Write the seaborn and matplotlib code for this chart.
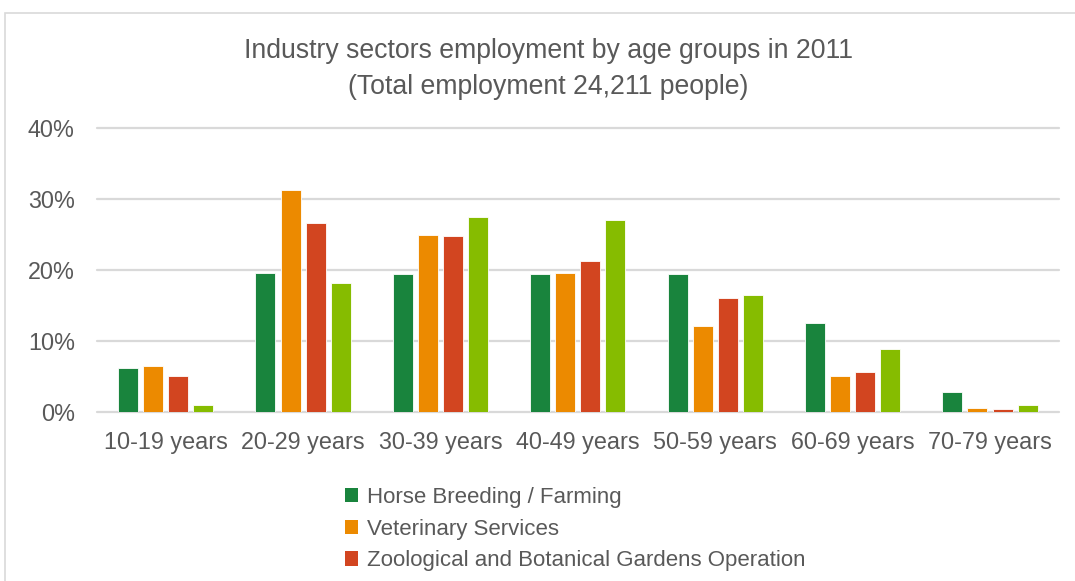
import matplotlib
matplotlib.use("Agg")
import matplotlib.pyplot as plt
from matplotlib.patches import Patch, Rectangle
import pandas as pd
import seaborn as sns

# Employment share (%) by age group for each industry sector, 2011
age_groups = ["10-19 years", "20-29 years", "30-39 years", "40-49 years",
              "50-59 years", "60-69 years", "70-79 years"]
sectors = ["Horse Breeding / Farming",
           "Veterinary Services",
           "Zoological and Botanical Gardens Operation",
           "Horse and Dog Racing Activities"]
horse_breeding = [6.2, 19.6, 19.4, 19.5, 19.4, 12.6, 2.85]
veterinary = [6.5, 31.2, 24.9, 19.6, 12.1, 5.05, 0.5]
zoo_gardens = [5.1, 26.6, 24.8, 21.2, 16.05, 5.6, 0.4]
racing = [1.0, 18.1, 27.4, 27.0, 16.5, 8.9, 1.0]
colors = ["#19843D", "#EC8A00", "#D24520", "#86BC00"]
yticks = [0, 10, 20, 30, 40]

series = [horse_breeding, veterinary, zoo_gardens, racing]
df = pd.DataFrame({
    "age": age_groups * len(sectors),
    "sector": [s for s in sectors for _ in age_groups],
    "share": [v for vals in series for v in vals],
})

sns.set_theme(style="white")
plt.rcParams["font.family"] = ["Liberation Sans", "DejaVu Sans"]
text_color = "#595959"
grid_color = "#D9D9D9"

W, H = 1075, 581
fig = plt.figure(figsize=(W / 100, H / 100), dpi=100)
fig.patch.set_facecolor("white")

# outer chart frame (continues past the right and bottom edges)
fig.patches.append(Rectangle((5 / W, -0.2), 1.3, 1.2 - 13 / H,
                             transform=fig.transFigure, fill=False,
                             edgecolor=grid_color, linewidth=1.2))

ax = fig.add_axes([97 / W, 1 - 412 / H, (1058.7 - 97) / W, (412 - 128) / H])
sns.barplot(data=df, x="age", y="share", hue="sector", hue_order=sectors,
            order=age_groups, palette=colors, saturation=1, width=0.73,
            gap=0.2, errorbar=None, edgecolor="white", linewidth=0.6,
            legend=False, ax=ax, zorder=3)

ax.set_ylim(0, 40)
ax.set_yticks(yticks)
ax.set_yticklabels([f"{t}%" for t in yticks])
ax.set_xlabel("")
ax.set_ylabel("")
for s in ax.spines.values():
    s.set_visible(False)
ax.set_axisbelow(True)
for t in yticks:
    ax.axhline(t, color=grid_color, linewidth=1.6, zorder=1, clip_on=False)
ax.tick_params(axis="x", length=0, pad=14, labelsize=16.8, labelcolor=text_color)
ax.tick_params(axis="y", length=0, pad=16, labelsize=16.8, labelcolor=text_color)
ax.set_xlim(-0.5, len(age_groups) - 0.5)

fig.text(548 / W, 1 - 51 / H, "Industry sectors employment by age groups in 2011",
         ha="center", va="center", fontsize=19.2, color=text_color)
fig.text(548 / W, 1 - 87 / H, "(Total employment 24,211 people)",
         ha="center", va="center", fontsize=19.2, color=text_color)

# legend entries that fit above the bottom edge
shown = 3
handles = [Patch(facecolor=c, edgecolor="none") for c in colors[:shown]]
fig.legend(handles, sectors[:shown], loc="upper left",
           bbox_to_anchor=(345 / W, 1 - 487 / H), frameon=False,
           fontsize=16, labelcolor=text_color, handlelength=0.6,
           handleheight=0.6, handletextpad=0.4, labelspacing=0.48,
           borderaxespad=0, borderpad=0)

fig.savefig("out.png", dpi=100)
